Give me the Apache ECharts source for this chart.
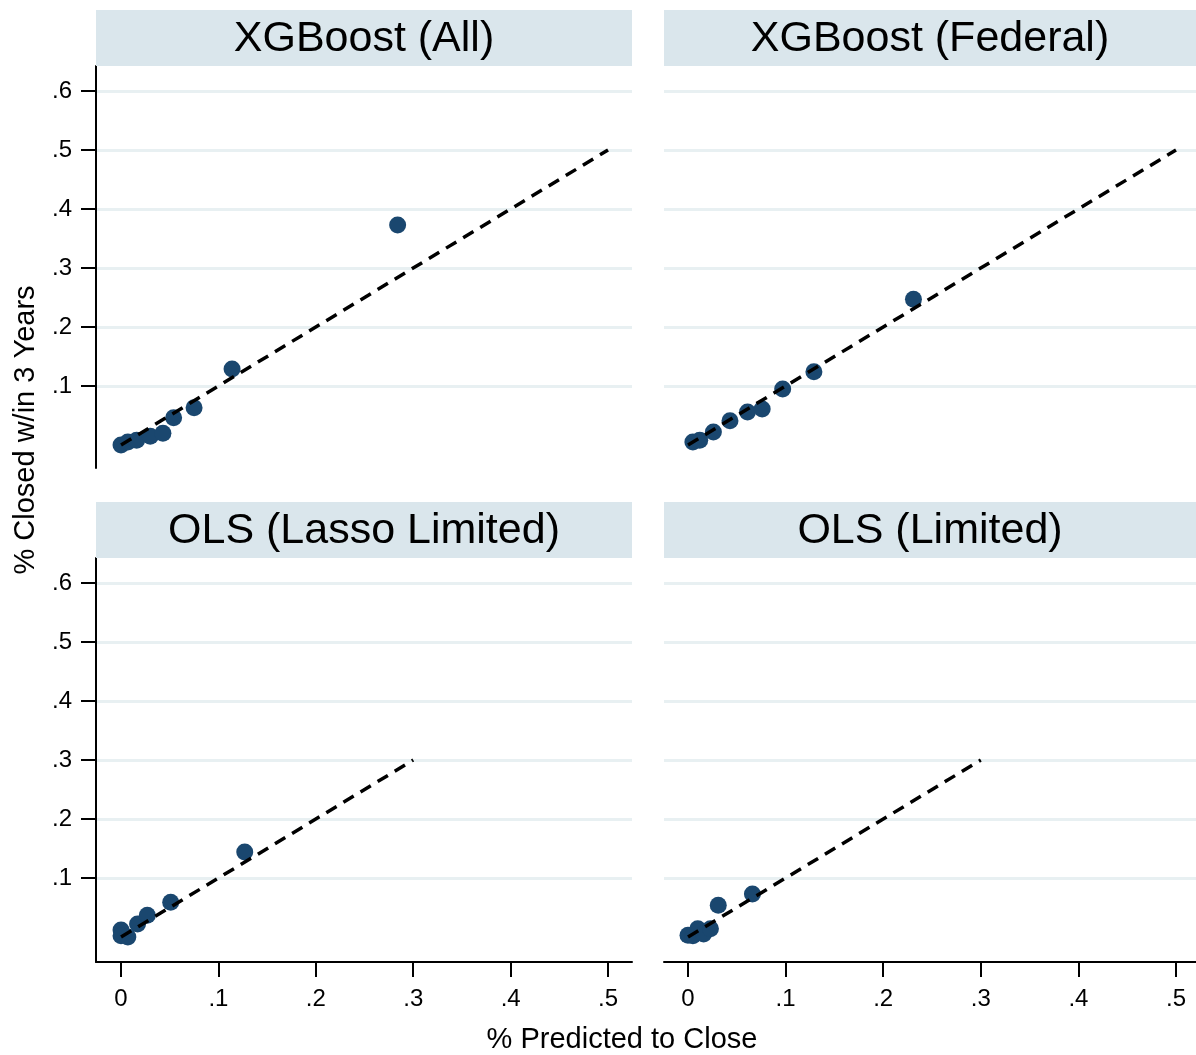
<!DOCTYPE html>
<html>
<head>
<meta charset="utf-8">
<script src="https://cdn.jsdelivr.net/npm/echarts@6/dist/echarts.min.js"></script>
<style>
html,body{margin:0;padding:0;background:#fff;}
#chart{width:1196px;height:1055px;}
</style>
</head>
<body>
<div id="chart"></div>
<script>
// ---- data ----
const panelTitles = ['XGBoost (All)', 'XGBoost (Federal)', 'OLS (Lasso Limited)', 'OLS (Limited)'];
const xgbAllPoints = [[0,0],[0.007,0.005],[0.016,0.008],[0.030,0.015],[0.043,0.020],[0.054,0.046],[0.075,0.063],[0.114,0.129],[0.284,0.373]];
const xgbFederalPoints = [[0.005,0.005],[0.012,0.008],[0.026,0.022],[0.043,0.041],[0.061,0.056],[0.076,0.061],[0.097,0.095],[0.129,0.124],[0.231,0.247]];
const olsLassoPoints = [[0,0.012],[0,0.002],[0.007,0],[0.017,0.022],[0.027,0.037],[0.051,0.059],[0.127,0.144]];
const olsLimitedPoints = [[0,0.003],[0.005,0.002],[0.010,0.014],[0.016,0.005],[0.023,0.014],[0.031,0.054],[0.066,0.073]];
const refLineTop = [[0,0],[0.5,0.5]];
const refLineBottom = [[0,0],[0.3,0.3]];
const xTickValues = [0, 0.1, 0.2, 0.3, 0.4, 0.5];
const xTickLabels = ['0', '.1', '.2', '.3', '.4', '.5'];
const yTickValues = [0.1, 0.2, 0.3, 0.4, 0.5, 0.6];
const yTickLabels = ['.1', '.2', '.3', '.4', '.5', '.6'];
const xAxisTitle = '% Predicted to Close';
const yAxisTitle = '% Closed w/in 3 Years';

// ---- styling ----
const FONT = '"Liberation Sans", Arial, sans-serif';
const NAVY = '#1a476f';
const STRIP = '#dae6ec';
const GRIDC = '#e8f0f2';

const grids = [
  {left: 96, top: 66, width: 536, height: 402},
  {left: 664, top: 66, width: 532, height: 402},
  {left: 96, top: 558, width: 536, height: 404},
  {left: 664, top: 558, width: 532, height: 404}
];
const yRanges = [[-0.039, 0.6424], [-0.039, 0.6424], [-0.0423, 0.6424], [-0.0423, 0.6424]];
const xRanges = [[-0.0257, 0.5246], [-0.0246, 0.5205], [-0.0257, 0.5246], [-0.0246, 0.5205]];

function lab(vals, labels) {
  return function (v) {
    for (let i = 0; i < vals.length; i++) if (Math.abs(vals[i] - v) < 1e-9) return labels[i];
    return '';
  };
}

const xAxes = grids.map((g, i) => {
  const bottom = i >= 2;
  return {
    type: 'value', gridIndex: i, min: xRanges[i][0], max: xRanges[i][1],
    show: true,
    axisLine: {show: bottom, onZero: false, lineStyle: {color: '#000', width: 2}},
    axisTick: {show: bottom, length: 15, lineStyle: {color: '#000', width: 2}, customValues: xTickValues},
    axisLabel: {show: bottom, customValues: xTickValues, formatter: lab(xTickValues, xTickLabels),
      fontFamily: FONT, fontSize: 24, color: '#000', margin: 25},
    splitLine: {show: false}
  };
});
const yAxes = grids.map((g, i) => {
  const left = i % 2 === 0;
  return {
    type: 'value', gridIndex: i, min: yRanges[i][0], max: yRanges[i][1],
    axisLine: {show: left, onZero: false, lineStyle: {color: '#000', width: 2}},
    axisTick: {show: left, length: 15, lineStyle: {color: '#000', width: 2}, customValues: yTickValues},
    axisLabel: {show: left, customValues: yTickValues, formatter: lab(yTickValues, yTickLabels),
      fontFamily: FONT, fontSize: 24, color: '#000', margin: 24},
    splitLine: {show: true, lineStyle: {color: GRIDC, width: 3}}
  };
});

const pointSets = [xgbAllPoints, xgbFederalPoints, olsLassoPoints, olsLimitedPoints];
const series = [];
pointSets.forEach((pts, i) => {
  series.push({
    type: 'scatter', xAxisIndex: i, yAxisIndex: i, data: pts,
    symbol: 'circle', symbolSize: 17, itemStyle: {color: NAVY, opacity: 1},
    z: 2, silent: true
  });
  series.push({
    type: 'line', xAxisIndex: i, yAxisIndex: i, data: i < 2 ? refLineTop : refLineBottom,
    showSymbol: false, symbol: 'none',
    lineStyle: {color: '#000', width: 3.5, type: [12, 8]},
    z: 3, silent: true, animation: false
  });
});

const graphic = [];
grids.forEach((g, i) => {
  const top = i < 2 ? 10 : 502;
  const x = g.left;
  const w = (i % 2 === 0) ? 536 : (1196 - 664);
  graphic.push({type: 'rect', shape: {x: x, y: top, width: w, height: 56}, style: {fill: STRIP}, z: 1});
  graphic.push({type: 'text', x: x + w / 2, y: top + 29, z: 2,
    style: {text: panelTitles[i], font: '43px ' + FONT, fill: '#000', textAlign: 'center', textVerticalAlign: 'middle'}});
});
graphic.push({type: 'text', x: 622, y: 1040, z: 2,
  style: {text: xAxisTitle, font: '29px ' + FONT, fill: '#000', textAlign: 'center', textVerticalAlign: 'middle'}});
graphic.push({type: 'text', x: 26, y: 430, rotation: Math.PI / 2, z: 2,
  style: {text: yAxisTitle, font: '29px ' + FONT, fill: '#000', textAlign: 'center', textVerticalAlign: 'middle'}});

const chart = echarts.init(document.getElementById('chart'), null, {renderer: 'canvas'});
chart.setOption({
  backgroundColor: '#fff',
  animation: false,
  grid: grids.map(g => Object.assign({containLabel: false}, g)),
  xAxis: xAxes,
  yAxis: yAxes,
  series: series,
  graphic: graphic
});
</script>
</body>
</html>
